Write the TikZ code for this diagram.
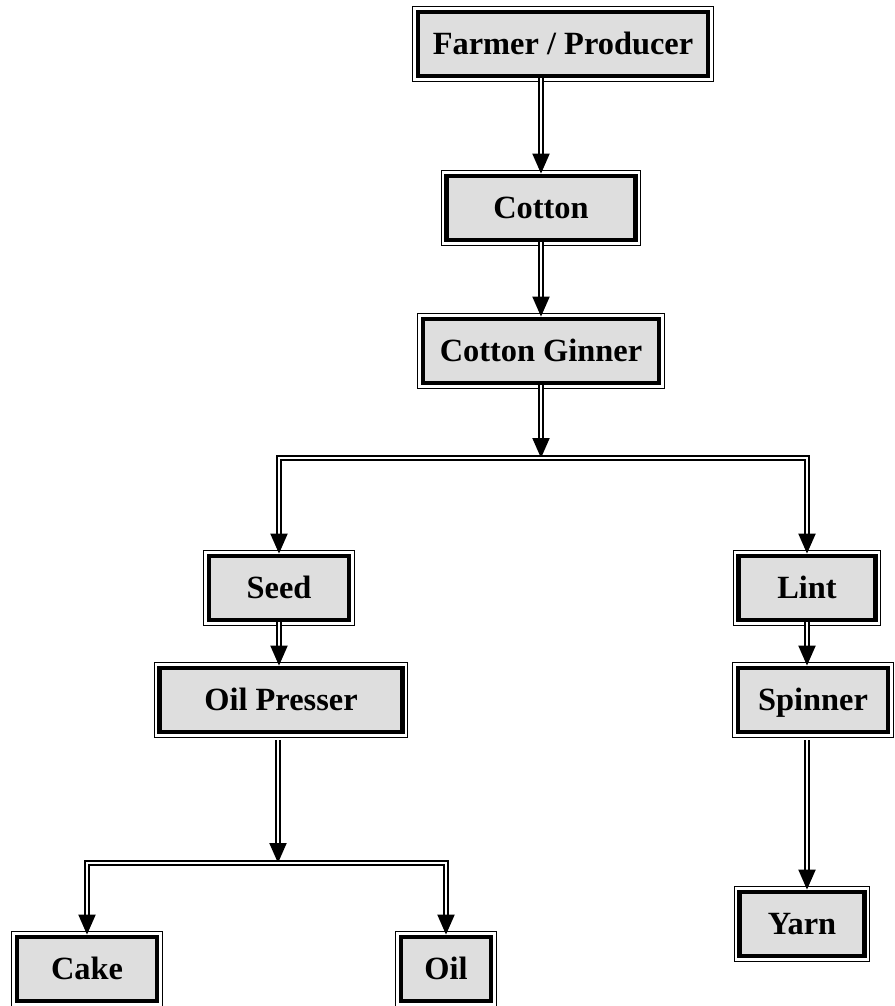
\documentclass[tikz,border=0pt]{standalone}
\usepackage{fontspec}
\setmainfont{Liberation Serif}
\usetikzlibrary{arrows.meta,positioning,calc}
\definecolor{boxgray}{HTML}{DEDEDE}
\tikzset{
  stage/.style={fill=boxgray, draw=black, line width=2.4pt, inner sep=0pt,
    minimum height=32pt, text height=10.7pt, text depth=0pt,
    font=\fontsize{16.2}{19}\selectfont\bfseries,
    preaction={draw=black, line width=5.6pt},
    preaction={draw=white, line width=4.6pt}},
  flow/.style={double, double distance=0.8pt, line width=1pt,
    -{Triangle[length=10pt,width=8.5pt]}}
}
\begin{document}
\begin{tikzpicture}[x=0.5pt,y=-0.5pt]
  \useasboundingbox (0,0) rectangle (894,1006);
  \node [stage, minimum width=145pt] (farmer) at (563,44) {Farmer / Producer};
  \node [stage, minimum width=94.5pt] (cotton) at (541,208) {Cotton};
  \node [stage, minimum width=118pt] (ginner) at (541,351) {Cotton Ginner};
  \node [stage, minimum width=70pt] (seed) at (279,588) {Seed};
  \node [stage, minimum width=68.5pt] (lint) at (807,588) {Lint};
  \node [stage, minimum width=121.5pt] (presser) at (281,700) {Oil Presser};
  \node [stage, minimum width=75pt] (spinner) at (813,700) {Spinner};
  \node [stage, minimum width=62.5pt] (yarn) at (802,924) {Yarn};
  \node [stage, minimum width=70pt] (cake) at (87,969) {Cake};
  \node [stage, minimum width=45pt] (oil) at (446,969) {Oil};
  \coordinate (fork) at (541,458);
  \coordinate (fork2) at (278,863);
  \draw [flow] (cotton.north |- farmer.south) -- (cotton.north);
  \draw [flow] (cotton.south) -- (ginner.north);
  \draw [flow] (ginner.south) -- (fork);
  \draw [flow] (fork) -| (seed.north);
  \draw [flow] (fork) -| (lint.north);
  \draw [flow] (seed.south) -- (seed.south |- presser.north);
  \draw [flow, shorten <=3pt] (fork2 |- presser.south) -- (fork2);
  \draw [flow] (fork2) -| (cake.north);
  \draw [flow] (fork2) -| (oil.north);
  \draw [flow] (lint.south) -- (lint.south |- spinner.north);
  \draw [flow, shorten <=3pt] (lint.south |- spinner.south) -- (lint.south |- yarn.north);
\end{tikzpicture}
\end{document}
